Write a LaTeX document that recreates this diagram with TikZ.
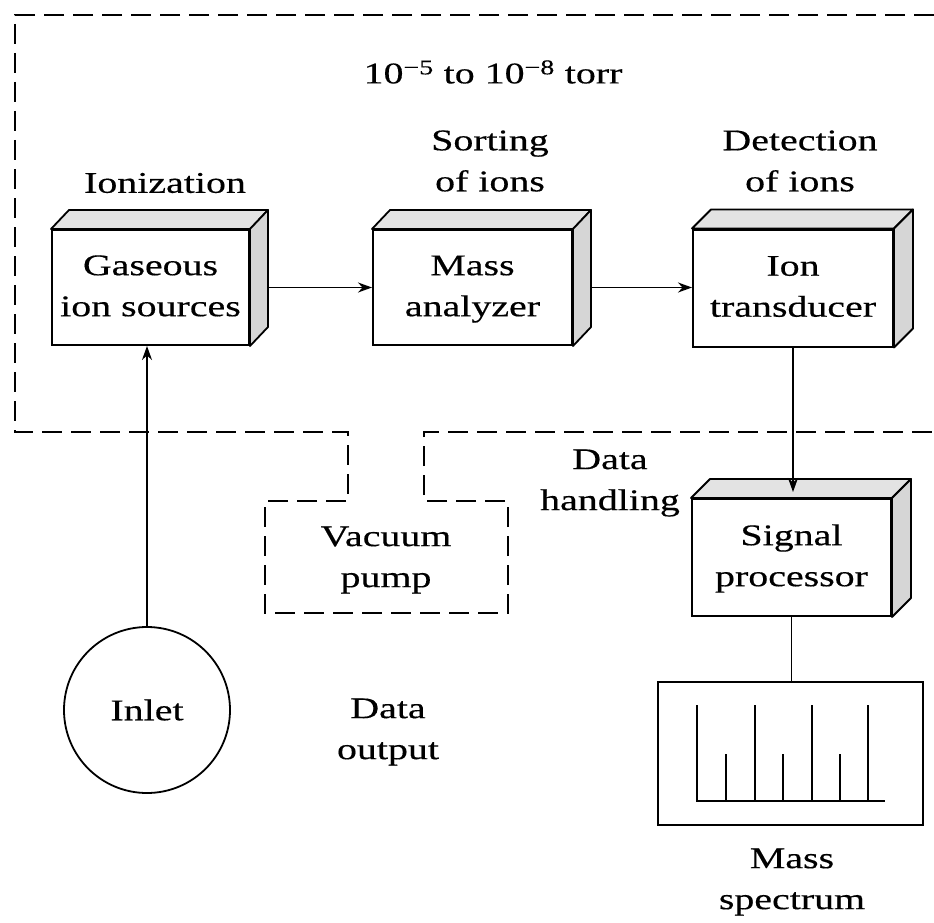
\documentclass[tikz,border=0pt]{standalone}
\usepackage{fontspec}
\setmainfont{Liberation Serif}[FakeStretch=1.33,FakeBold=0.4]
\usetikzlibrary{arrows.meta}
\newcommand\boxdepth[3]{%
  \filldraw[topface] (#1.north west) -- ++(#2,-#3) -- ([shift={(#2,-#3)}]#1.north east) -- (#1.north east) -- cycle;
  \filldraw[sideface] (#1.north east) -- ++(#2,-#3) -- ([shift={(#2,-#3)}]#1.south east) -- (#1.south east) -- cycle;}
\tikzset{
  frontbox/.style={draw, fill=white, inner sep=0pt, align=center, line width=2pt},
  sideface/.style={draw, fill=gray!32, line width=1.8pt, line join=round},
  topface/.style={draw, fill=gray!22, line width=1.8pt, line join=round},
  lbl/.style={align=center, inner sep=0pt},
  conn/.style={-{Stealth[length=14pt,width=10pt]}, line width=1.8pt},
  vac/.style={line width=1.9pt, dash pattern=on 20pt off 9pt},
  spk/.style={line width=2.4pt}
}
\begin{document}
\begin{tikzpicture}[x=1pt,y=-1pt,line width=1.8pt,font=\fontsize{30}{41}\selectfont]
\useasboundingbox (0,0) rectangle (934,923);
\fill[white] (0,0) rectangle (934,923);

% vacuum enclosure and pump
\draw[vac] (934,15) -- (15,15) -- (15,432) -- (348,432) -- (348,501) -- (265,501)
  -- (265,613) -- (508,613) -- (508,501) -- (424,501) -- (424,432) -- (934,432);

% boxes
\node[frontbox, minimum width=197pt, minimum height=115pt] (gas) at (150.5,287.5) {\strut Gaseous\\\strut ion sources};
\node[frontbox, minimum width=199pt, minimum height=115pt] (mass) at (472.5,287.5) {\strut Mass\\\strut analyzer};
\node[frontbox, minimum width=200pt, minimum height=117pt] (ion) at (793,288) {\strut Ion\\\strut transducer};
\node[frontbox, minimum width=199pt, minimum height=117pt] (sig) at (791.5,557.5) {\strut Signal\\\strut processor};
\boxdepth{gas}{18}{19}
\boxdepth{mass}{18}{19}
\boxdepth{ion}{19}{19}
\boxdepth{sig}{19}{19}

\node[draw, line width=2pt, minimum width=265pt, minimum height=143pt, inner sep=0pt] (spec) at (790.5,753.5) {};
\node[draw, circle, line width=1.8pt, minimum size=166pt, inner sep=0pt] (inlet) at (147,710) {Inlet};

% spectrum peaks
\draw[spk] (697,705) -- (697,801) -- (885,801);
\foreach \x in {755,812,868} \draw[spk] (\x,705) -- (\x,801);
\foreach \x in {726,783,840} \draw[spk] (\x,754) -- (\x,801);

% labels
\node[lbl] (torr) at (493,72) {10\textsuperscript{−5} to 10\textsuperscript{−8} torr};
\node[lbl] (ionz) at (165,183) {Ionization};
\node[lbl] (sort) at (490,161) {Sorting\\of ions};
\node[lbl] (det) at (800,161) {Detection\\of ions};
\node[lbl] (dh) at (610,483) {Data\\handling};
\node[lbl] (vp) at (386,560) {Vacuum\\pump};
\node[lbl] (dout) at (388,732) {Data\\output};
\node[lbl] (ms) at (792,882) {Mass\\spectrum};

% connectors
\draw[conn] (inlet.north) -- (inlet.north |- gas.south);
\draw[conn] ([xshift=18pt]gas.east) -- (mass.west);
\draw[conn] ([xshift=18pt]mass.east) -- (mass.east -| ion.west);
\draw[conn] (ion.south) -- ([yshift=6pt]ion.south |- sig.north);
\draw (sig.south) -- (sig.south |- spec.north);
\end{tikzpicture}
\end{document}
